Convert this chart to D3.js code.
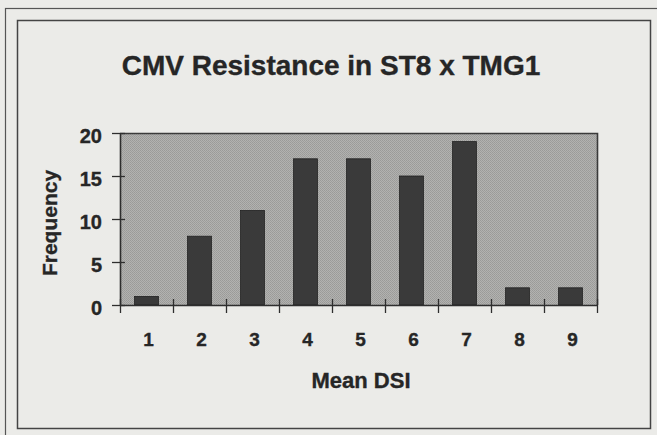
<!DOCTYPE html>
<html>
<head>
<meta charset="utf-8">
<script src="https://cdn.jsdelivr.net/npm/d3@7"></script>
<style>
  html, body { margin: 0; padding: 0; background: #ebebe8; }
  svg { display: block; }
  text { font-family: "Liberation Sans", Arial, Helvetica, sans-serif; font-weight: bold; fill: #262626; stroke: #262626; stroke-width: 0.35px; }
</style>
</head>
<body>
<svg id="chart" width="657" height="435"></svg>
<script>
const categories = ["1", "2", "3", "4", "5", "6", "7", "8", "9"];
const frequency = [1, 8, 11, 17, 17, 15, 19, 2, 2];
const yTicks = [0, 5, 10, 15, 20];
const titleText = "CMV Resistance in ST8 x TMG1";
const xLabel = "Mean DSI";
const yLabel = "Frequency";

const svg = d3.select("#chart");
const W = 657, H = 435;
const plot = { left: 120, right: 597, top: 133, bottom: 305 };

// halftone-like texture for the plot area
const defs = svg.append("defs");
const pat = defs.append("pattern").attr("id", "dots").attr("width", 2).attr("height", 2)
  .attr("patternUnits", "userSpaceOnUse");
pat.append("rect").attr("width", 2).attr("height", 2).attr("fill", "#b2b2b0");
pat.append("rect").attr("width", 1).attr("height", 1).attr("fill", "#9a9a98");
pat.append("rect").attr("x", 1).attr("y", 1).attr("width", 1).attr("height", 1).attr("fill", "#9e9e9c");

svg.append("rect").attr("width", W).attr("height", H).attr("fill", "#ebebe8");
// outer frame (runs off the picture at right/bottom)
svg.append("rect").attr("x", 5.5).attr("y", 8.5).attr("width", 700).attr("height", 500)
  .attr("fill", "none").attr("stroke", "#555").attr("stroke-width", 1.2);
// inner frame
svg.append("rect").attr("x", 17.5).attr("y", 20.5).attr("width", 633).attr("height", 408)
  .attr("fill", "none").attr("stroke", "#444").attr("stroke-width", 1.5);

const x = d3.scaleBand().domain(categories).range([plot.left, plot.right])
  .paddingInner(0.55).paddingOuter(0.275);
const y = d3.scaleLinear().domain([0, 20]).range([plot.bottom, plot.top]);
const xEdges = d3.scaleLinear().domain([0, categories.length]).range([plot.left, plot.right]);

// plot area
svg.append("rect").attr("x", plot.left).attr("y", plot.top)
  .attr("width", plot.right - plot.left).attr("height", plot.bottom - plot.top)
  .attr("fill", "url(#dots)");
svg.append("path")
  .attr("d", `M${plot.left},${plot.top + 0.5}H${plot.right + 0.5}V${plot.bottom}`)
  .attr("fill", "none").attr("stroke", "#3a3a3a").attr("stroke-width", 1.6);

// bars
svg.append("g").selectAll("rect").data(frequency).join("rect")
  .attr("x", (d, i) => x(categories[i]))
  .attr("y", d => y(d))
  .attr("width", x.bandwidth())
  .attr("height", d => y(0) - y(d))
  .attr("fill", "#3a3a3a")
  .attr("stroke", "#222").attr("stroke-width", 0.8);

// y axis
const gy = svg.append("g").attr("transform", `translate(${plot.left},0)`)
  .call(d3.axisLeft(y).tickValues(yTicks).tickSizeInner(8).tickSizeOuter(0).tickPadding(10));
gy.select(".domain").attr("stroke", "#2e2e2e").attr("stroke-width", 1.6);
gy.selectAll(".tick line").attr("x1", 5).attr("stroke", "#2e2e2e").attr("stroke-width", 1.3);
gy.selectAll(".tick text").attr("font-size", 20).attr("dy", "0.48em")
  .attr("font-family", "Liberation Sans, Arial, sans-serif").attr("font-weight", "bold").attr("fill", "#262626");

// x axis boundary ticks
const gxe = svg.append("g").attr("transform", `translate(0,${plot.bottom})`)
  .call(d3.axisBottom(xEdges).tickValues(d3.range(categories.length + 1)).tickFormat("").tickSizeInner(8).tickSizeOuter(0));
gxe.select(".domain").attr("stroke", "#2e2e2e").attr("stroke-width", 1.6);
gxe.selectAll(".tick line").attr("y1", -6).attr("stroke", "#2e2e2e").attr("stroke-width", 1.3);

// x category labels
const gx = svg.append("g").attr("transform", `translate(2,${plot.bottom})`)
  .call(d3.axisBottom(x).tickSize(0).tickPadding(28));
gx.select(".domain").remove();
gx.selectAll(".tick text").attr("font-size", 19)
  .attr("font-family", "Liberation Sans, Arial, sans-serif").attr("font-weight", "bold").attr("fill", "#262626");

// title
svg.append("text").attr("x", 331).attr("y", 75).attr("text-anchor", "middle")
  .attr("font-size", 28).text(titleText);

// axis titles
svg.append("text").attr("x", 361).attr("y", 388).attr("text-anchor", "middle")
  .attr("font-size", 22).text(xLabel);
svg.append("text").attr("transform", "translate(57,223) rotate(-90)").attr("text-anchor", "middle")
  .attr("font-size", 21).text(yLabel);
</script>
</body>
</html>
